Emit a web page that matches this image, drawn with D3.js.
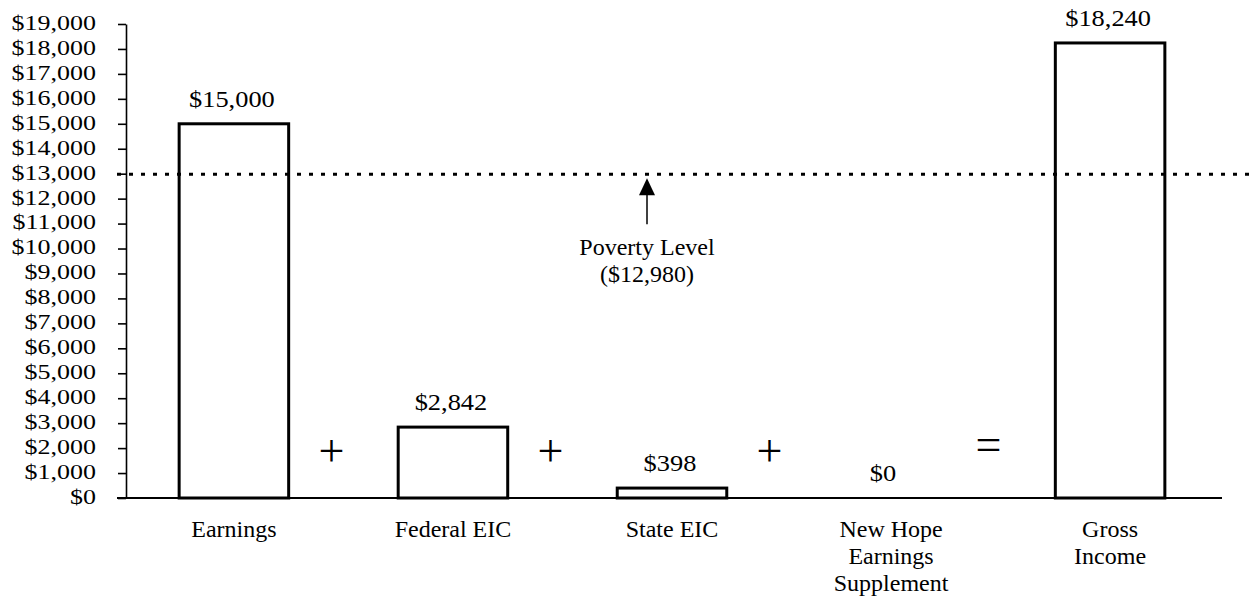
<!DOCTYPE html>
<html>
<head>
<meta charset="utf-8">
<script src="https://cdn.jsdelivr.net/npm/d3@7"></script>
<style>
  html, body { margin: 0; padding: 0; background: #fff; }
  svg { display: block; }
  text { font-family: "Liberation Serif", "Times New Roman", serif; fill: #000; }
</style>
</head>
<body>
<svg id="chart" width="1252" height="614"></svg>
<script>
// ---- Data ----
const categories = ["Earnings", "Federal EIC", "State EIC", "New Hope Earnings Supplement", "Gross Income"];
const categoryLines = [["Earnings"], ["Federal EIC"], ["State EIC"], ["New Hope", "Earnings", "Supplement"], ["Gross", "Income"]];
const values = [15000, 2842, 398, 0, 18240];
const valueLabels = ["$15,000", "$2,842", "$398", "$0", "$18,240"];
const operators = ["+", "+", "+", "="];
const yTickValues = [0, 1000, 2000, 3000, 4000, 5000, 6000, 7000, 8000, 9000, 10000,
                     11000, 12000, 13000, 14000, 15000, 16000, 17000, 18000, 19000];
const povertyLevel = 12980;
const povertyLabel = ["Poverty Level", "($12,980)"];

// ---- Layout ----
const svg = d3.select("#chart");
const axisX = 126;
const y = d3.scaleLinear().domain([0, 19000]).range([498, 24]);
const x = d3.scaleBand().domain(categories).range([120, 1224])
  .paddingInner(0.5).paddingOuter(0.27);

// y axis
const yAxis = svg.append("g")
  .attr("transform", `translate(${axisX},0)`)
  .call(d3.axisLeft(y).tickValues(yTickValues).tickSize(8).tickSizeOuter(0)
        .tickFormat(d => "$" + d3.format(",")(d)));
yAxis.select(".domain").attr("stroke", "#000").attr("stroke-width", 1.6);
yAxis.selectAll(".tick line").attr("stroke", "#000").attr("stroke-width", 1.6);
yAxis.selectAll(".tick text")
  .attr("x", null)
  .attr("dy", "0.27em")
  .attr("transform", "translate(-30,0) scale(1.3,1)")
  .style("font-family", "Liberation Serif")
  .style("font-size", "20px")
  .attr("fill", "#000");

// x axis (baseline + category labels)
const xAxis = svg.append("g")
  .attr("transform", `translate(0,${y(0)})`)
  .call(d3.axisBottom(x).tickSize(0).tickSizeOuter(0).tickFormat(""));
xAxis.select(".domain").attr("stroke", "#000").attr("stroke-width", 2)
  .attr("d", "M117,0H1222");
xAxis.selectAll(".tick").each(function(d, i) {
  const t = d3.select(this).select("text")
    .attr("y", null).attr("dy", null)
    .style("font-family", "Liberation Serif")
    .style("font-size", "24px")
    .attr("fill", "#000")
    .attr("text-anchor", "middle");
  categoryLines[i].forEach((line, j) => {
    t.append("tspan").attr("x", 0).attr("y", 39 + j * 27).text(line);
  });
});

// bars
svg.append("g").selectAll("rect")
  .data(values)
  .join("rect")
  .attr("x", (d, i) => x(categories[i]))
  .attr("width", x.bandwidth())
  .attr("y", d => y(d))
  .attr("height", d => y(0) - y(d))
  .attr("fill", "#fff")
  .attr("stroke", "#000")
  .attr("stroke-width", 3);

// poverty dotted line (drawn over the bars)
svg.append("line")
  .attr("x1", 117).attr("x2", 1252)
  .attr("y1", y(povertyLevel)).attr("y2", y(povertyLevel))
  .attr("stroke", "#000").attr("stroke-width", 3)
  .attr("stroke-dasharray", "4,8");

// value labels
svg.append("g").selectAll("text")
  .data(values)
  .join("text")
  .attr("transform", (d, i) => `translate(${x(categories[i]) + x.bandwidth() / 2 - (d === 0 ? 8 : 2)},${y(d) - 17}) scale(1.1,1)`)
  .attr("text-anchor", "middle")
  .style("font-size", "24px")
  .text((d, i) => valueLabels[i]);

// operators between bars
svg.append("g").selectAll("text")
  .data(operators)
  .join("text")
  .attr("x", (d, i) => (x(categories[i]) + x.bandwidth() + x(categories[i + 1])) / 2 - 12)
  .attr("y", (d) => d === "=" ? y(1900) - 6 : y(1900))
  .attr("text-anchor", "middle")
  .attr("dominant-baseline", "central")
  .style("font-size", "46px")
  .text(d => d);

// poverty annotation: arrow + label
const annX = 647;
const tipY = y(povertyLevel) + 4;
svg.append("line")
  .attr("x1", annX).attr("x2", annX)
  .attr("y1", tipY + 14).attr("y2", tipY + 46)
  .attr("stroke", "#000").attr("stroke-width", 1.5);
svg.append("path")
  .attr("d", `M${annX},${tipY} L${annX - 8},${tipY + 17} L${annX + 8},${tipY + 17} Z`)
  .attr("fill", "#000");
svg.append("g").selectAll("text")
  .data(povertyLabel)
  .join("text")
  .attr("x", annX)
  .attr("y", (d, i) => 255 + i * 27)
  .attr("text-anchor", "middle")
  .style("font-size", "24px")
  .text(d => d);
</script>
</body>
</html>
